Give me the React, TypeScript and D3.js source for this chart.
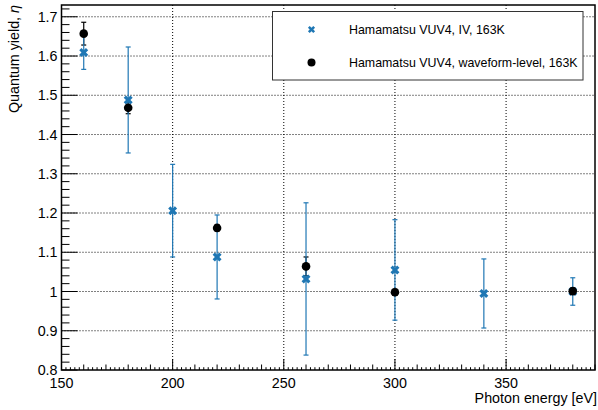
import React from "react";
import * as d3 from "d3";

const energyIV = [160, 180, 200, 220, 260, 300, 340, 380];
const yieldIV = [1.609, 1.488, 1.206, 1.088, 1.032, 1.055, 0.995, 1.0];
const errIV = [0.043, 0.135, 0.118, 0.107, 0.194, 0.128, 0.088, 0.035];

const energyWF = [160, 180, 220, 260, 300, 380];
const yieldWF = [1.657, 1.468, 1.162, 1.064, 0.998, 1.001];
const errWF = [0.029, 0.015, 0.008, 0.024, 0.008, 0.008];

const xTicks = [150, 200, 250, 300, 350];
const yTicks = [0.8, 0.9, 1.0, 1.1, 1.2, 1.3, 1.4, 1.5, 1.6, 1.7];
const legendLabels = ["Hamamatsu VUV4, IV, 163K", "Hamamatsu VUV4, waveform-level, 163K"];

const W = 598, H = 410;
const L = 61.5, R = 595, T = 5, B = 370;
const BLUE = "#1f77b4";
const FONT = "'Liberation Sans', Arial, Helvetica, sans-serif";

export default function App() {
  const x = d3.scaleLinear().domain([150, 390]).range([L, R]);
  const y = d3.scaleLinear().domain([0.8, 1.73]).range([B, T]);

  const xMinor = d3.range(150, 391, 2).filter((v) => v % 50 !== 0);
  const yMinor = d3.range(80, 173, 2).map((v) => v / 100).filter((v) => Math.round(v * 100) % 10 !== 0);

  const crossPath = d3.symbol().type(d3.symbolCross).size(50)() as string;
  const fmtY = (v: number) => (Math.abs(v - 1) < 1e-9 ? "1" : d3.format(".1f")(v));

  const errBar = (xv: number, yv: number, e: number, color: string, key: string) => (
    <g key={key} stroke={color} strokeWidth={1.2}>
      <line x1={x(xv)} x2={x(xv)} y1={y(yv + e)} y2={y(yv - e)} />
      <line x1={x(xv) - 2.5} x2={x(xv) + 2.5} y1={y(yv + e)} y2={y(yv + e)} />
      <line x1={x(xv) - 2.5} x2={x(xv) + 2.5} y1={y(yv - e)} y2={y(yv - e)} />
    </g>
  );

  return (
    <svg width={W} height={H} style={{ position: "absolute", left: 0, top: 0, background: "#fff" }} fontFamily={FONT}>
      <rect x={0} y={0} width={W} height={H} fill="#fff" />
      {/* grid */}
      <g stroke="#000" strokeWidth={1} strokeDasharray="1,2">
        {xTicks.filter((v) => v > 150).map((v) => (
          <line key={"gx" + v} x1={x(v)} x2={x(v)} y1={T} y2={B} />
        ))}
        {yTicks.filter((v) => v > 0.8).map((v) => (
          <line key={"gy" + v} x1={L} x2={R} y1={y(v)} y2={y(v)} />
        ))}
      </g>
      {/* ticks */}
      <g stroke="#000" strokeWidth={1}>
        {xTicks.map((v) => (
          <line key={"xt" + v} x1={x(v)} x2={x(v)} y1={B} y2={B - 11} />
        ))}
        {xMinor.map((v) => (
          <line key={"xm" + v} x1={x(v)} x2={x(v)} y1={B} y2={B - (v % 10 === 0 ? 5.5 : 2.8)} />
        ))}
        {yTicks.map((v) => (
          <line key={"yt" + v} x1={L} x2={L + 16} y1={y(v)} y2={y(v)} />
        ))}
        {yMinor.map((v) => (
          <line key={"ym" + v} x1={L} x2={L + 8} y1={y(v)} y2={y(v)} />
        ))}
      </g>
      {/* tick labels */}
      <g fontSize={14.3} fill="#000">
        {xTicks.map((v) => (
          <text key={"xl" + v} x={x(v)} y={B + 18} textAnchor="middle">{v}</text>
        ))}
        {yTicks.map((v) => (
          <text key={"yl" + v} x={L - 4} y={y(v) + 5} textAnchor="end">{fmtY(v)}</text>
        ))}
      </g>
      {/* axis titles */}
      <text x={597} y={403} textAnchor="end" fontSize={14.3}>Photon energy [eV]</text>
      <text transform={`translate(19,${T}) rotate(-90)`} textAnchor="end" fontSize={14.3}>
        Quantum yield, <tspan fontStyle="italic">η</tspan>
      </text>
      {/* error bars */}
      {energyWF.map((e, i) => errBar(e, yieldWF[i], errWF[i], "#000", "we" + i))}
      {energyIV.map((e, i) => errBar(e, yieldIV[i], errIV[i], BLUE, "ie" + i))}
      {/* markers */}
      {energyIV.map((e, i) => (
        <path key={"im" + i} d={crossPath} fill={BLUE} transform={`translate(${x(e)},${y(yieldIV[i])}) rotate(45)`} />
      ))}
      {energyWF.map((e, i) => (
        <circle key={"wm" + i} cx={x(e)} cy={y(yieldWF[i])} r={4.3} fill="#000" />
      ))}
      {/* frame */}
      <rect x={L} y={T} width={R - L} height={B - T} fill="none" stroke="#000" strokeWidth={1.5} />
      {/* legend */}
      <g>
        <rect x={272.5} y={11.5} width={310.5} height={68.5} fill="#fff" stroke="#333" strokeWidth={1} />
        <path d={crossPath} fill={BLUE} transform={`translate(311.5,29.5) rotate(45) scale(0.8)`} />
        <circle cx={311.5} cy={62.5} r={4} fill="#000" />
        <text x={349} y={34} fontSize={12.4}>{legendLabels[0]}</text>
        <text x={349} y={67} fontSize={12.4}>{legendLabels[1]}</text>
      </g>
    </svg>
  );
}
